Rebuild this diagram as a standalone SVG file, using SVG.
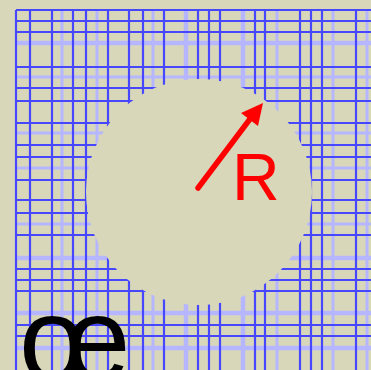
<svg xmlns="http://www.w3.org/2000/svg" width="371" height="370" viewBox="0 0 371 370">
<defs>
<filter id="soft" x="-5%" y="-5%" width="110%" height="110%"><feGaussianBlur stdDeviation="0.6"/></filter>
</defs>
<style>
.d{stroke:#4646ff;stroke-width:2.2;fill:none}
.l{stroke:#b6b6ff;stroke-width:3;fill:none}
.lt{stroke:#b6b6ff;stroke-width:4.5;fill:none}
</style>
<rect width="371" height="370" fill="#d8d7ba"/>
<g id="grid" filter="url(#soft)">
<g class="lt">
<path d="M16 43H371M16 258H371M16 313H371M16 348H371M186 10V370M243 10V370"/>
</g>
<g class="l">
<path d="M16 77H371M16 133H371M16 168H371M16 224H371M62 10V370M97 10V370M153 10V370M277 10V370M333 10V370M367 10V370"/>
</g>
<g class="d">
<path d="M16 10H371M16 21H371M16 32H371M16 67H371M16 88H371M16 101H371M16 123H371M16 145H371M16 157H371M16 180H371M16 200H371M16 213H371M16 235H371M16 269H371M16 280H371M16 291H371M16 325H371M16 336H371"/>
<path d="M16 10V370M30 10V370M52 10V370M73 10V370M86 10V370M108 10V370M129 10V370M143 10V370M164 10V370M198 10V370M209 10V370M220 10V370M255 10V370M265 10V370M300 10V370M311 10V370M322 10V370M356 10V370"/>
</g>
</g>
<g id="disc">
<circle cx="199" cy="192" r="113" fill="#d8d7ba"/>
</g>
<g id="radius" fill="#ff0000">
<line x1="198" y1="188" x2="250" y2="119" stroke="#ff0000" stroke-width="5.5" stroke-linecap="round"/>
<polygon points="263,103 258,126 241,113"/>
<text x="232" y="200" font-family="Liberation Sans, Arial, sans-serif" font-size="66">R</text>
</g>
<g id="label">
<text x="19" y="380" font-family="Liberation Sans, Arial, sans-serif" font-size="118" fill="#000">œ</text>
</g>
</svg>
